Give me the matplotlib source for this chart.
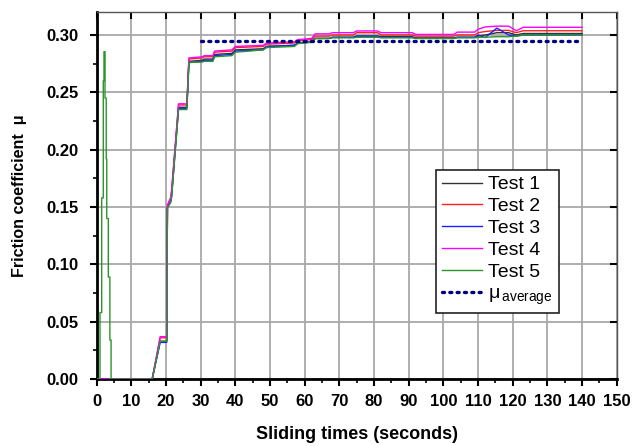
import matplotlib
matplotlib.use("Agg")
import matplotlib.pyplot as plt
from matplotlib.ticker import MultipleLocator, FormatStrFormatter

plt.rcParams['font.family'] = ['Liberation Sans', 'DejaVu Sans']
plt.rcParams['mathtext.fontset'] = 'custom'
plt.rcParams['mathtext.rm'] = 'Liberation Sans'

# ---- data ----
t_main = [0, 16, 18.3, 20.2, 20.4, 21.3, 21.6, 23.6, 26.0, 26.6, 30.5, 31.0, 33.5, 34.0,
          39.0, 40.0, 48.0, 49.0, 57.0, 58.0, 62.0, 63.0, 67.0, 68.0, 74.0, 75.0, 81.0,
          82.0, 91.0, 92.0, 103.0, 104.0, 109.0, 110.0, 112.0, 115.4, 118.8, 121.0, 123.0, 140.0]

test1 = [0, 0, 0.033, 0.033, 0.150, 0.155, 0.160, 0.237, 0.237, 0.277,
         0.278, 0.279, 0.279, 0.283, 0.284, 0.287, 0.288, 0.290, 0.291, 0.293,
         0.294, 0.297, 0.297, 0.298, 0.298, 0.299, 0.299, 0.2985, 0.2985, 0.2975,
         0.2975, 0.298, 0.298, 0.299, 0.300, 0.302, 0.302, 0.300, 0.3013, 0.3013]
test2 = [0, 0, 0.036, 0.036, 0.151, 0.157, 0.163, 0.239, 0.239, 0.279,
         0.280, 0.281, 0.281, 0.285, 0.286, 0.289, 0.290, 0.292, 0.293, 0.295,
         0.296, 0.299, 0.299, 0.300, 0.300, 0.302, 0.302, 0.300, 0.300, 0.299,
         0.299, 0.300, 0.300, 0.302, 0.303, 0.304, 0.304, 0.302, 0.3037, 0.3037]
test3 = [0, 0, 0.032, 0.032, 0.150, 0.154, 0.160, 0.236, 0.236, 0.276,
         0.277, 0.278, 0.278, 0.282, 0.283, 0.286, 0.287, 0.290, 0.291, 0.293,
         0.294, 0.297, 0.297, 0.298, 0.298, 0.299, 0.299, 0.298, 0.298, 0.297,
         0.297, 0.298, 0.298, 0.300, 0.2977, 0.306, 0.300, 0.299, 0.300, 0.300]
test4 = [0, 0, 0.037, 0.037, 0.152, 0.158, 0.165, 0.240, 0.240, 0.280,
         0.281, 0.282, 0.282, 0.286, 0.287, 0.290, 0.291, 0.293, 0.294, 0.296,
         0.297, 0.301, 0.301, 0.302, 0.302, 0.3035, 0.3035, 0.302, 0.302, 0.3005,
         0.3005, 0.3025, 0.3025, 0.305, 0.307, 0.3077, 0.3077, 0.3037, 0.3067, 0.3067]

t5_spike = [0, 0.95, 0.95, 1.44, 1.44, 1.9, 1.9, 2.1, 2.1, 2.4, 2.4, 2.75, 2.75,
            2.9, 2.9, 3.35, 3.35, 3.8, 3.8, 4.15, 4.15]
v5_spike = [0, 0, 0.058, 0.058, 0.158, 0.158, 0.26, 0.26, 0.2855, 0.2855, 0.245, 0.245,
            0.192, 0.192, 0.14, 0.14, 0.089, 0.089, 0.034, 0.034, 0]
test5_main = [0, 0.033, 0.033, 0.149, 0.154, 0.158, 0.235, 0.235, 0.276,
              0.2765, 0.277, 0.277, 0.281, 0.282, 0.285, 0.287, 0.289, 0.290, 0.2925,
              0.2935, 0.297, 0.297, 0.2975, 0.2975, 0.298, 0.298, 0.2975, 0.2975, 0.297,
              0.297, 0.2975, 0.2975, 0.298, 0.298, 0.2985, 0.2985, 0.299, 0.300, 0.300]

avg_t = [30, 138.5]
avg_v = [0.295, 0.295]

labels = ['Test 1', 'Test 2', 'Test 3', 'Test 4', 'Test 5']
colors = ['#333333', '#ff2020', '#2020ff', '#ff00ff', '#2a962a']

# ---- figure ----
fig = plt.figure(figsize=(6.32, 4.46), dpi=100)
ax = fig.add_axes([0.153, 0.150, 0.823, 0.823])

series_t = [t_main, t_main, t_main, t_main, t5_spike + t_main[1:]]
series_v = [test1, test2, test3, test4, v5_spike + test5_main]
for tt, vv, lab, c in zip(series_t, series_v, labels, colors):
    ax.plot(tt, vv, color=c, lw=1.0, label=lab, zorder=3)

ax.plot(avg_t, avg_v, color='#000080', lw=2.4, linestyle=(0, (0.6, 1.6)),
        dash_capstyle='round', label='μ$_{\\,\\rm average}$', zorder=4)

ax.set_xlim(0, 150)
ax.set_ylim(0, 0.32)
ax.xaxis.set_major_locator(MultipleLocator(10))
ax.xaxis.set_minor_locator(MultipleLocator(5))
ax.yaxis.set_major_locator(MultipleLocator(0.05))
ax.yaxis.set_minor_locator(MultipleLocator(0.025))
ax.yaxis.set_major_formatter(FormatStrFormatter('%.2f'))

ax.grid(True, which='major', color='#a8a8a8', lw=1.3, zorder=1)
ax.set_axisbelow(True)

for s in ax.spines.values():
    s.set_linewidth(1.0)
    s.set_color('#555555')
ax.spines['left'].set_linewidth(2.0)
ax.spines['bottom'].set_linewidth(2.0)
ax.spines['left'].set_color('black')
ax.spines['bottom'].set_color('black')

ax.tick_params(axis='both', which='major', direction='out', length=5, width=1.5,
               labelsize=12)
ax.tick_params(axis='x', which='major', pad=6)
ax.tick_params(axis='y', which='major', pad=8)
ax.tick_params(axis='both', which='minor', direction='out', length=3, width=1.2)
for lab in ax.get_xticklabels() + ax.get_yticklabels():
    lab.set_fontweight('bold')
# top/right inward ticks
ax.tick_params(axis='x', which='major', top=True)
ax.tick_params(axis='y', which='major', right=True)
for t in ax.xaxis.get_major_ticks():
    t.tick2line.set_marker(3)
for t in ax.yaxis.get_major_ticks():
    t.tick2line.set_marker(0)
ax.tick_params(axis='x', which='minor', top=False)
ax.tick_params(axis='y', which='minor', right=False)

ax.set_xlabel('Sliding times (seconds)', fontsize=13, fontweight='bold', labelpad=12)
ax.set_ylabel('Friction coefficient  μ', fontsize=11.5, fontweight='bold', labelpad=14)

leg = ax.legend(loc='upper left', bbox_to_anchor=(0.652, 0.570), fontsize=14,
                frameon=True, fancybox=False, edgecolor='#222222', framealpha=1,
                handlelength=2.1, handletextpad=0.3, labelspacing=0.22,
                borderpad=0.3, borderaxespad=0)
leg.get_frame().set_linewidth(1.2)

fig.savefig('out.png', dpi=100)
